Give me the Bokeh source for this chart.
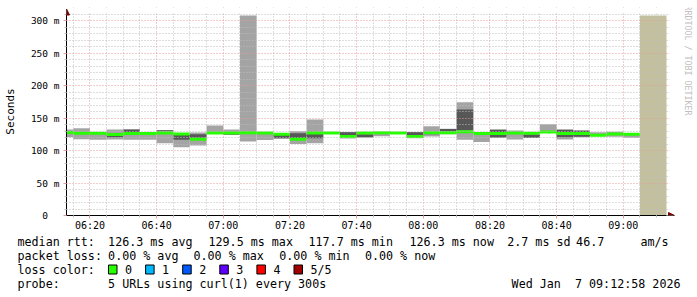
import math
from datetime import datetime
from bokeh.plotting import figure
from bokeh.layouts import column
from bokeh.core.properties import value
from bokeh.models import (Range1d, FixedTicker, DatetimeTickFormatter, Label, BoxAnnotation,
                          Arrow, NormalHead, LinearAxis, DatetimeAxis, Grid)
from bokeh.embed import file_html
from bokeh.resources import INLINE

# ---------------- data ----------------
bin_start = ["06:10", "06:15", "06:20", "06:25", "06:30", "06:35", "06:40", "06:45", "06:50", "06:55",
             "07:00", "07:05", "07:10", "07:15", "07:20", "07:25", "07:30", "07:35", "07:40", "07:45",
             "07:50", "07:55", "08:00", "08:05", "08:10", "08:15", "08:20", "08:25", "08:30", "08:35",
             "08:40", "08:45", "08:50", "08:55", "09:00"]
NaN = float("nan")
smoke_min = [120.5, 117.4, 116.5, 117.0, 116.4, 116.5, 111.3, 105.0, 107.7, 126.0,
             124.0, 114.0, 116.0, 118.0, 110.0, 111.3, 126.0, 118.5, 120.0, 122.0,
             126.0, 119.0, 121.5, 125.0, 116.5, 113.0, 119.5, 117.0, 119.5, 127.0,
             117.0, 120.5, 122.0, 121.0, 119.5]
smoke_q1 = [NaN, NaN, NaN, 120.5, 128.0, NaN, 129.5, 116.4, 119.5, NaN,
            124.5, NaN, NaN, 119.0, 119.0, 119.0, NaN, 123.0, 120.5, NaN,
            NaN, 123.0, 125.0, 129.5, 131.0, NaN, 120.0, NaN, 119.5, NaN,
            120.5, 121.0, NaN, NaN, NaN]
smoke_q3 = [NaN, NaN, NaN, 123.0, 132.3, NaN, 131.0, 124.0, 125.0, NaN,
            126.0, NaN, NaN, 124.0, 126.6, 125.6, NaN, 128.0, 125.0, NaN,
            NaN, 128.0, 127.0, 133.0, 163.0, NaN, 132.0, NaN, 124.5, NaN,
            132.0, 130.5, NaN, NaN, NaN]
smoke_max = [132.3, 134.3, 128.0, 132.3, 132.3, 127.0, 131.0, 127.0, 127.7, 138.5,
             132.3, 307.7, 127.0, 126.5, 129.5, 147.7, 127.5, 128.5, 128.5, 128.5,
             128.0, 128.5, 137.5, 133.5, 174.4, 127.5, 132.3, 130.8, 128.0, 140.5,
             132.3, 131.0, 128.0, 129.0, 126.5]
median_rtt = [127.7, 126.6, 126.5, 124.5, 126.3, 126.3, 127.0, 125.5, 117.5, 127.0,
              127.0, 127.5, 127.0, 125.0, 117.5, 127.0, 127.0, 121.5, 127.0, 127.5,
              127.0, 121.5, 127.5, 127.5, 129.0, 126.0, 126.0, 127.0, 126.5, 128.5,
              126.0, 126.0, 123.5, 125.5, 125.0]
unknown_from = "09:05"
range_start = "06:12:58"
range_end = "09:12:58"
step_minutes = 5
y_ticks = [0, 50, 100, 150, 200, 250, 300]
y_tick_labels = ["0\u00a0\u00a0", "50 m", "100 m", "150 m", "200 m", "250 m", "300 m"]
x_tick_labels = ["06:20", "06:40", "07:00", "07:20", "07:40", "08:00", "08:20", "08:40", "09:00"]
loss_labels = ["0", "1", "2", "3", "4", "5/5"]
loss_colors = ["#26ff00", "#00b8ff", "#0059ff", "#5e00ff", "#ff0000", "#a10000"]

stats_rtt = ["126.3 ms avg", "129.5 ms max", "117.7 ms min", "126.3 ms now", "2.7 ms sd", "46.7", "am/s"]
stats_loss = ["0.00 % avg", "0.00 % max", "0.00 % min", "0.00 % now"]
probe_text = "5 URLs using curl(1) every 300s"
stamp_text = "Wed Jan\u00a0\u00a07 09:12:58 2026"
watermark = "RRDTOOL / TOBI OETIKER"

# ---------------- helpers ----------------
EPOCH = datetime(1970, 1, 1)


def ms(hhmm):
    parts = [int(v) for v in hhmm.split(":")]
    while len(parts) < 3:
        parts.append(0)
    d = datetime(2026, 1, 7, parts[0], parts[1], parts[2])
    return (d - EPOCH).total_seconds() * 1000.0


STEP = step_minutes * 60 * 1000.0
t0, t1 = ms(range_start), ms(range_end)
left = [ms(s) for s in bin_start]
right = [v + STEP for v in left]

W = 697
FL, FT = 66, 7           # frame left / top on the canvas
AXIS_Y = 215             # canvas y of the x axis
H1 = 235                 # height of the chart part
H2 = 297 - H1            # height of the legend part
PXMS = 600.0 / (t1 - t0)  # pixels per millisecond
PXY = 0.65               # pixels per ms of rtt
YMAX = (AXIS_Y - 13) / PXY        # top of plot area (value)
YTOP = (AXIS_Y - FT) / PXY        # top of frame
XEND = t0 + (W - FL) / PXMS       # right edge of frame

MONO = "DejaVu Sans Mono"

p = figure(width=W, height=H1, x_axis_type=None, y_axis_type=None,
           x_range=Range1d(t0, XEND), y_range=Range1d(0, YTOP),
           output_backend="svg", toolbar_location=None, frame_align=False,
           min_border_left=FL, min_border_right=0, min_border_top=FT, min_border_bottom=H1 - AXIS_Y)
p.outline_line_color = None
p.background_fill_color = "white"
p.border_fill_color = "white"

# tan "unknown" area
p.quad(left=[ms(unknown_from)], right=[t1], bottom=[0], top=[max(smoke_max)],
       fill_color="#c3c09f", line_color=None)

# smoke
p.quad(left=left, right=right, bottom=smoke_min, top=smoke_max, fill_color="#a4a4a4", line_color=None)
dk = [(l, r, a, b) for l, r, a, b in zip(left, right, smoke_q1, smoke_q3) if not math.isnan(a)]
p.quad(left=[d[0] for d in dk], right=[d[1] for d in dk], bottom=[d[2] for d in dk], top=[d[3] for d in dk],
       fill_color="#575757", line_color=None)
# median
p.segment(x0=left, x1=right, y0=median_rtt, y1=median_rtt, line_color="#26ff00", line_width=3)

# grids
xmaj = [ms(s) for s in x_tick_labels]
xmin = [float(t) for t in range(int(ms("06:15")), int(t1) + 1, int(STEP)) if float(t) not in xmaj]
ymin = [v for v in range(10, 311, 10) if v % 50 != 0]
MAJ = "#e29a9a"
MIN = "#bdbdbd"
p.add_layout(Grid(dimension=0, ticker=FixedTicker(ticks=xmaj, minor_ticks=xmin),
                  grid_line_color=MAJ, grid_line_dash="1 2", minor_grid_line_color=MIN,
                  minor_grid_line_dash="1 2", level="guide"))
p.add_layout(Grid(dimension=1, ticker=FixedTicker(ticks=y_ticks[1:], minor_ticks=ymin),
                  grid_line_color=MAJ, grid_line_dash="1 2", minor_grid_line_color=MIN,
                  minor_grid_line_dash="1 2", level="guide"))

# white covers where rrdtool's canvas has no grid
p.add_layout(BoxAnnotation(bottom=YMAX + 0.2, fill_color="white", fill_alpha=1, line_color=None))
p.add_layout(BoxAnnotation(left=t1 + 3 / PXMS, fill_color="white", fill_alpha=1, line_color=None))

# axes
yaxis = LinearAxis(ticker=FixedTicker(ticks=y_ticks, minor_ticks=ymin), bounds=(0, YMAX),
                   major_label_overrides={v: s for v, s in zip(y_ticks, y_tick_labels)},
                   axis_label="Seconds", axis_label_text_font=MONO, axis_label_text_font_size="11px",
                   axis_label_text_font_style="normal", axis_label_text_color="#000000",
                   axis_label_standoff=11,
                   major_label_text_font=MONO, major_label_text_font_size="9.5px",
                   major_label_text_color="#000000", major_label_standoff=4,
                   axis_line_color="#000000", major_tick_in=0, major_tick_out=3,
                   major_tick_line_color=MAJ, minor_tick_in=0, minor_tick_out=2,
                   minor_tick_line_color=MIN)
p.add_layout(yaxis, "left")
fmt = "%H:%M"
xaxis = DatetimeAxis(ticker=FixedTicker(ticks=xmaj, minor_ticks=xmin), bounds=(t0, t1),
                     formatter=DatetimeTickFormatter(milliseconds=fmt, seconds=fmt, minsec=fmt, minutes=fmt,
                                                     hourmin=fmt, hours=fmt, days=fmt, months=fmt, years=fmt),
                     major_label_text_font=MONO, major_label_text_font_size="10px",
                     major_label_text_color="#000000", major_label_standoff=1,
                     axis_line_color="#000000", major_tick_in=0, major_tick_out=3,
                     major_tick_line_color=MAJ, minor_tick_in=0, minor_tick_out=2,
                     minor_tick_line_color=MIN)
p.add_layout(xaxis, "below")

# axis arrows
AR = "#7a0000"
p.add_layout(Arrow(x_start=t1, y_start=0, x_end=t1 + 8 / PXMS, y_end=0,
                   end=NormalHead(size=6, fill_color=AR, line_color=AR), line_color="#000000", line_width=1))
p.add_layout(Arrow(x_start=t0, y_start=YMAX, x_end=t0, y_end=(AXIS_Y - 8.5) / PXY,
                   end=NormalHead(size=6, fill_color=AR, line_color=AR), line_color="#000000", line_width=1))

# watermark
p.add_layout(Label(x=t0 + (687 - FL) / PXMS, y=(AXIS_Y - 5) / PXY, text=watermark,
                   text_font=MONO, text_font_size="8.3px", text_color="#c0c0c0",
                   text_align="left", text_baseline="middle", angle=-math.pi / 2))

# ---------------- legend part ----------------
q = figure(width=W, height=H2, x_axis_type=None, y_axis_type=None,
           x_range=Range1d(0, W), y_range=Range1d(H2, 0),
           output_backend="svg", toolbar_location=None, frame_align=False,
           min_border_left=0, min_border_right=0, min_border_top=0, min_border_bottom=0)
q.outline_line_color = None
q.background_fill_color = "white"
q.border_fill_color = "white"
q.xgrid.visible = False
q.ygrid.visible = False

ROW = [241 - H1, 255 - H1, 269 - H1, 283 - H1]
tx, ty, tt, ta = [], [], [], []


def put(s, x, row, align="left"):
    tx.append(x)
    ty.append(row)
    tt.append(s)
    ta.append(align)


put("median rtt:", 17, ROW[0])
for s, x in zip(stats_rtt, [107.6, 208, 308, 409, 506.7, 575.6, 640]):
    put(s, x, ROW[0])
put("packet loss:", 17, ROW[1])
for s, x in zip(stats_loss, [107.6, 193, 278.7, 364.4]):
    put(s, x, ROW[1])
put("loss color:", 17, ROW[2])
bl = [108 + 37.1 * i for i in range(len(loss_labels))]
for s, x in zip(loss_labels, bl):
    put(s, x + 16.5, ROW[2])
put("probe:", 17, ROW[3])
put(probe_text, 107.6, ROW[3])
put(stamp_text, 680, ROW[3], "right")

q.quad(left=bl, right=[x + 8.5 for x in bl], top=[ROW[2] - 4.5] * len(bl), bottom=[ROW[2] + 4.5] * len(bl),
       fill_color=loss_colors, line_color="#000000", line_width=1)
q.text(x=tx, y=ty, text=tt, text_align=ta, text_baseline="middle", text_font=value(MONO),
       text_font_size=value("11.7px"), text_color="#000000")

layout = column(p, q, spacing=0)
open("out.html", "w").write(file_html(layout, INLINE))
